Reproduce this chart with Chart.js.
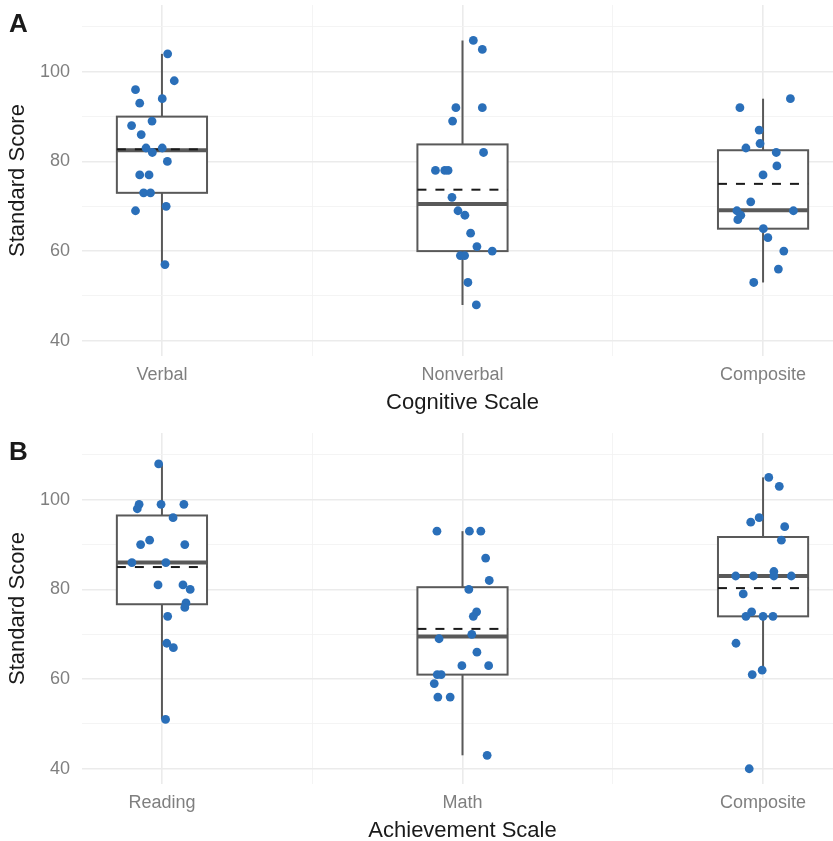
<!DOCTYPE html>
<html>
<head>
<meta charset="utf-8">
<script src="https://cdn.jsdelivr.net/npm/chart.js@4.4.1/dist/chart.umd.min.js"></script>
<style>
  html, body { margin: 0; padding: 0; background: #fff; overflow: hidden; }
  #wrap { position: relative; width: 833px; height: 841px; overflow: hidden; }
  canvas { position: absolute; left: 0; }
  #panelA { top: 0; }
  #panelB { top: 428px; }
</style>
</head>
<body>
<div id="wrap">
  <canvas id="panelA" width="843" height="420"></canvas>
  <canvas id="panelB" width="843" height="420"></canvas>
</div>
<script>
// ---- data ----
const yTicks = [40, 50, 60, 70, 80, 90, 100, 110];

// Panel A: cognitive scales
const cognitiveCats = ["Verbal", "Nonverbal", "Composite"];
const verbalScores = [104, 98, 96, 93, 94, 89, 88, 86, 83, 83, 82, 80, 77, 77, 73, 73, 70, 69, 57];
const verbalJitter = [0.019, 0.041, -0.088, -0.074, 0.001, -0.033, -0.101, -0.069, -0.053, 0.001, -0.032, 0.018, -0.074, -0.043, -0.061, -0.038, 0.014, -0.088, 0.01];
const nonverbalScores = [107, 105, 92, 92, 89, 82, 78, 78, 78, 72, 69, 68, 64, 61, 60, 59, 59, 53, 48];
const nonverbalJitter = [0.036, 0.066, -0.022, 0.066, -0.033, 0.07, -0.09, -0.059, -0.048, -0.035, -0.015, 0.008, 0.027, 0.048, 0.099, -0.007, 0.007, 0.018, 0.046];
const cogCompositeScores = [92, 94, 87, 84, 83, 82, 79, 77, 71, 69, 69, 68, 67, 65, 63, 60, 56, 53];
const cogCompositeJitter = [-0.077, 0.091, -0.013, -0.01, -0.057, 0.044, 0.046, 0, -0.041, -0.087, 0.101, -0.074, -0.084, 0.001, 0.016, 0.069, 0.051, -0.031];
const cogLow = [57, 48, 53];
const cogQ1 = [73, 60, 65];
const cogMedian = [82.5, 70.5, 69.1];
const cogQ3 = [90, 83.8, 82.5];
const cogHigh = [104, 107, 94];
const cogMean = [82.7, 73.7, 75];

// Panel B: achievement scales
const achievementCats = ["Reading", "Math", "Composite"];
const readingScores = [108, 99, 98, 99, 99, 96, 90, 91, 90, 86, 86, 81, 81, 80, 77, 76, 74, 68, 67, 51];
const readingJitter = [-0.011, -0.076, -0.082, -0.003, 0.073, 0.037, -0.071, -0.041, 0.076, -0.1, 0.013, -0.013, 0.07, 0.094, 0.08, 0.076, 0.019, 0.016, 0.038, 0.012];
const mathScores = [93, 93, 93, 87, 82, 80, 75, 74, 70, 69, 66, 63, 63, 61, 61, 59, 56, 56, 43];
const mathJitter = [-0.085, 0.023, 0.061, 0.077, 0.089, 0.021, 0.047, 0.036, 0.031, -0.078, 0.048, -0.002, 0.087, -0.084, -0.071, -0.094, -0.082, -0.041, 0.082];
const achCompositeScores = [105, 103, 95, 96, 94, 91, 83, 83, 84, 83, 83, 79, 75, 74, 74, 74, 68, 62, 61, 40];
const achCompositeJitter = [0.019, 0.054, -0.041, -0.013, 0.072, 0.061, -0.091, -0.032, 0.036, 0.036, 0.094, -0.066, -0.038, -0.057, 0, 0.033, -0.09, -0.003, -0.036, -0.046];
const achLow = [51, 43, 62];
const achQ1 = [76.7, 61, 74];
const achMedian = [86, 69.5, 83];
const achQ3 = [96.5, 80.5, 91.7];
const achHigh = [108, 93, 105];
const achMean = [85, 71.2, 80.3];

const FONT = "'Liberation Sans', Arial, Helvetica, sans-serif";
const POINT_COLOR = "#2a6fb9";
const BOX_HALF = 0.15;

function toPoints(catIndex, scores, jitter) {
  return scores.map((v, i) => ({ x: catIndex + 1 + jitter[i], y: v }));
}

// draws whiskers, boxes, median and dashed mean under the points
const boxPlugin = {
  id: "boxes",
  beforeDatasetsDraw(chart, args, opts) {
    const { ctx } = chart;
    const x = chart.scales.x, y = chart.scales.y;
    const s = opts.stats;
    ctx.save();
    for (let i = 0; i < s.median.length; i++) {
      const cx = x.getPixelForValue(i + 1);
      const left = x.getPixelForValue(i + 1 - BOX_HALF);
      const right = x.getPixelForValue(i + 1 + BOX_HALF);
      const top = y.getPixelForValue(s.q3[i]);
      const bottom = y.getPixelForValue(s.q1[i]);

      ctx.strokeStyle = "#595959";
      ctx.lineWidth = 2;
      ctx.beginPath();
      ctx.moveTo(cx, y.getPixelForValue(s.high[i]));
      ctx.lineTo(cx, y.getPixelForValue(s.low[i]));
      ctx.stroke();

      ctx.fillStyle = "#ffffff";
      ctx.fillRect(left, top, right - left, bottom - top);
      ctx.strokeRect(left, top, right - left, bottom - top);

      const ym = y.getPixelForValue(s.median[i]);
      ctx.lineWidth = 4;
      ctx.beginPath();
      ctx.moveTo(left, ym);
      ctx.lineTo(right, ym);
      ctx.stroke();

      const ya = y.getPixelForValue(s.mean[i]);
      ctx.strokeStyle = "#1a1a1a";
      ctx.lineWidth = 2;
      ctx.setLineDash([9, 9]);
      ctx.beginPath();
      ctx.moveTo(left, ya);
      ctx.lineTo(right, ya);
      ctx.stroke();
      ctx.setLineDash([]);
    }
    ctx.restore();
  },
  afterDraw(chart, args, opts) {
    const { ctx } = chart;
    ctx.save();
    ctx.fillStyle = "#1a1a1a";
    ctx.font = "bold 26px " + FONT;
    ctx.textBaseline = "alphabetic";
    ctx.fillText(opts.tag, 9, 32);
    ctx.restore();
  }
};

function makePanel(canvasId, tag, cats, seriesList, stats, xTitle) {
  const datasets = seriesList.map((s, i) => ({
    data: toPoints(i, s.scores, s.jitter),
    backgroundColor: POINT_COLOR,
    borderWidth: 0,
    pointRadius: 4.4
  }));

  return new Chart(document.getElementById(canvasId), {
    type: "scatter",
    data: { datasets: datasets },
    options: {
      responsive: false,
      devicePixelRatio: 1,
      animation: false,
      events: [],
      layout: { autoPadding: false, padding: { top: 5, right: 0, bottom: 0, left: 0 } },
      plugins: {
        legend: { display: false },
        tooltip: { enabled: false },
        boxes: { stats: stats, tag: tag }
      },
      scales: {
        x: {
          type: "linear",
          min: 0.734,
          max: 3.266,
          afterBuildTicks: (s) => { s.ticks = [1, 1.5, 2, 2.5, 3].map((v) => ({ value: v })); },
          afterFit: (s) => { s.height = 64; s.paddingLeft = 0; s.paddingRight = 0; },
          ticks: {
            autoSkip: false,
            maxRotation: 0,
            padding: 8,
            color: "#7f7f7f",
            font: { family: FONT, size: 18 },
            callback: (v) => (Number.isInteger(v) ? cats[v - 1] : "")
          },
          grid: {
            drawTicks: false,
            color: (c) => (c.tick && Number.isInteger(c.tick.value) ? "#ebebeb" : "#f3f3f3"),
            lineWidth: (c) => (c.tick && Number.isInteger(c.tick.value) ? 1.6 : 0.9)
          },
          border: { display: false },
          title: {
            display: true,
            text: xTitle,
            color: "#1a1a1a",
            font: { family: FONT, size: 22 },
            padding: { top: 0, bottom: 4 }
          }
        },
        y: {
          min: 36.6,
          max: 114.9,
          afterBuildTicks: (s) => { s.ticks = yTicks.map((v) => ({ value: v })); },
          afterFit: (s) => { s.width = 82; s.paddingTop = 0; s.paddingBottom = 0; },
          ticks: {
            autoSkip: false,
            padding: 12,
            color: "#7f7f7f",
            font: { family: FONT, size: 18 },
            callback: (v) => (v % 20 === 0 ? v : "")
          },
          grid: {
            drawTicks: false,
            color: (c) => (c.tick && c.tick.value % 20 === 0 ? "#ebebeb" : "#f3f3f3"),
            lineWidth: (c) => (c.tick && c.tick.value % 20 === 0 ? 1.6 : 0.9)
          },
          border: { display: false },
          title: {
            display: true,
            text: "Standard Score",
            color: "#1a1a1a",
            font: { family: FONT, size: 22 },
            padding: { top: 5, bottom: 0 }
          }
        }
      }
    },
    plugins: [boxPlugin]
  });
}

makePanel("panelA", "A", cognitiveCats, [
  { scores: verbalScores, jitter: verbalJitter },
  { scores: nonverbalScores, jitter: nonverbalJitter },
  { scores: cogCompositeScores, jitter: cogCompositeJitter }
], { low: cogLow, q1: cogQ1, median: cogMedian, q3: cogQ3, high: cogHigh, mean: cogMean }, "Cognitive Scale");

makePanel("panelB", "B", achievementCats, [
  { scores: readingScores, jitter: readingJitter },
  { scores: mathScores, jitter: mathJitter },
  { scores: achCompositeScores, jitter: achCompositeJitter }
], { low: achLow, q1: achQ1, median: achMedian, q3: achQ3, high: achHigh, mean: achMean }, "Achievement Scale");
</script>
</body>
</html>
